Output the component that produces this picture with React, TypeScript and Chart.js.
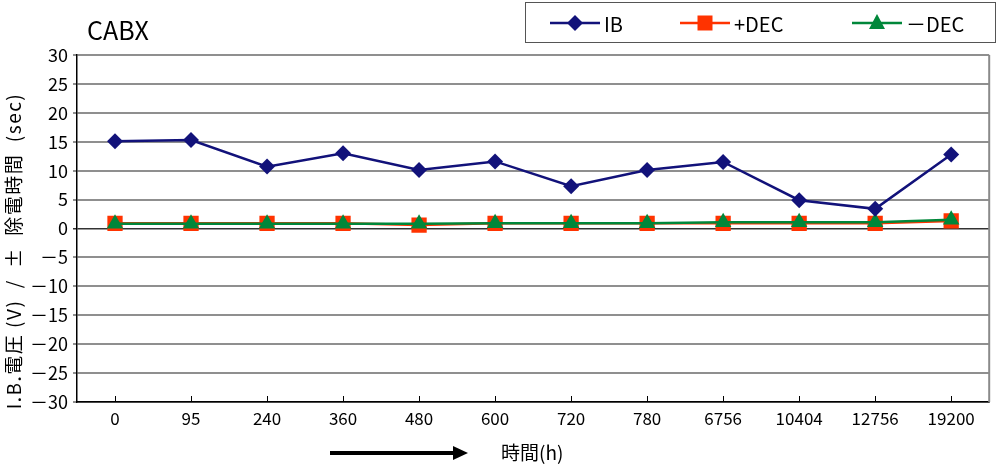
import React, { useEffect, useRef } from 'react';
import { Chart, registerables } from 'chart.js';

Chart.register(...registerables);

const categories = ['0', '95', '240', '360', '480', '600', '720', '780', '6756', '10404', '12756', '19200'];
const ibValues = [15.1, 15.3, 10.7, 13.0, 10.1, 11.6, 7.3, 10.1, 11.5, 4.9, 3.4, 12.8];
const plusDecValues = [0.9, 0.9, 0.9, 0.9, 0.6, 0.9, 0.9, 0.9, 0.9, 0.9, 0.9, 1.3];
const minusDecValues = [0.8, 0.8, 0.8, 0.8, 0.8, 0.9, 0.9, 0.9, 1.1, 1.1, 1.1, 1.5];
const seriesNames = ['IB', '+DEC', '－DEC'];
const yMin = -30;
const yMax = 30;
const yStep = 5;
const chartTitle = 'CABX';
const yTitle = 'I.B.電圧 (V)  /  ±  除電時間  (sec)';
const xTitle = '時間(h)';

const FONT = "'Noto Sans CJK JP', 'Noto Sans', sans-serif";
const C_IB = '#12127a';
const C_PLUS = '#ff3300';
const C_MINUS = '#00873a';

function marker(ctx: CanvasRenderingContext2D, kind: string, x: number, y: number, color: string) {
  ctx.save();
  ctx.fillStyle = color;
  ctx.beginPath();
  if (kind === 'diamond') {
    const r = 8;
    ctx.moveTo(x - r, y); ctx.lineTo(x, y - r); ctx.lineTo(x + r, y); ctx.lineTo(x, y + r);
  } else if (kind === 'square') {
    const s = 7.5;
    ctx.rect(x - s, y - s, 2 * s, 2 * s);
  } else {
    ctx.moveTo(x, y - 9); ctx.lineTo(x + 8, y + 6); ctx.lineTo(x - 8, y + 6);
  }
  ctx.closePath();
  ctx.fill();
  ctx.restore();
}

const decorPlugin = {
  id: 'decor',
  afterDraw(chart: any) {
    const ctx: CanvasRenderingContext2D = chart.ctx;
    const area = chart.chartArea;
    const xs = chart.scales.x;
    ctx.save();
    // right border of plot area
    ctx.strokeStyle = '#8a8a8a';
    ctx.lineWidth = 2;
    ctx.beginPath();
    ctx.moveTo(area.right, area.top);
    ctx.lineTo(area.right, area.bottom);
    ctx.stroke();

    // category tick marks (pointing up from bottom axis)
    ctx.strokeStyle = '#000';
    ctx.lineWidth = 1;
    for (let i = 0; i < categories.length; i++) {
      const px = Math.round(xs.getPixelForValue(i)) + 0.5;
      ctx.beginPath();
      ctx.moveTo(px, area.bottom);
      ctx.lineTo(px, area.bottom - 6);
      ctx.stroke();
    }

    // title
    ctx.fillStyle = '#000';
    ctx.font = `25px ${FONT}`;
    ctx.textAlign = 'left';
    ctx.textBaseline = 'middle';
    ctx.fillText(chartTitle, 87, 30);

    // legend box
    ctx.strokeStyle = '#555';
    ctx.lineWidth = 1;
    ctx.strokeRect(525.5, 2.5, 470, 40);
    const items = [
      { x: 550, color: C_IB, kind: 'diamond', label: seriesNames[0] },
      { x: 680, color: C_PLUS, kind: 'square', label: seriesNames[1] },
      { x: 852, color: C_MINUS, kind: 'triangle', label: seriesNames[2] },
    ];
    const ly = 23;
    items.forEach((it) => {
      ctx.strokeStyle = it.color;
      ctx.lineWidth = 2.5;
      ctx.beginPath();
      ctx.moveTo(it.x, ly);
      ctx.lineTo(it.x + 50, ly);
      ctx.stroke();
      marker(ctx, it.kind, it.x + 25, ly, it.color);
      ctx.fillStyle = '#000';
      ctx.font = `20px ${FONT}`;
      ctx.textAlign = 'left';
      ctx.textBaseline = 'middle';
      ctx.fillText(it.label, it.x + 54, ly + 1);
    });

    // y title
    ctx.save();
    ctx.translate(14, 251);
    ctx.rotate(-Math.PI / 2);
    ctx.fillStyle = '#000';
    ctx.font = `19px ${FONT}`;
    (ctx as any).letterSpacing = '1.5px';
    ctx.textAlign = 'center';
    ctx.textBaseline = 'middle';
    ctx.fillText(yTitle, 0, 0);
    ctx.restore();

    // x title and arrow
    ctx.fillStyle = '#000';
    ctx.font = `19px ${FONT}`;
    ctx.textAlign = 'left';
    ctx.textBaseline = 'middle';
    ctx.fillText(xTitle, 501, 453);
    ctx.strokeStyle = '#000';
    ctx.lineWidth = 4;
    ctx.beginPath();
    ctx.moveTo(330, 453);
    ctx.lineTo(456, 453);
    ctx.stroke();
    ctx.beginPath();
    ctx.moveTo(468, 453);
    ctx.lineTo(453, 446);
    ctx.lineTo(453, 460);
    ctx.closePath();
    ctx.fill();
    ctx.restore();
  },
};

export default function App() {
  const ref = useRef<HTMLCanvasElement | null>(null);
  useEffect(() => {
    if (!ref.current) return;
    const chart = new Chart(ref.current, {
      type: 'line',
      data: {
        labels: categories,
        datasets: [
          {
            label: seriesNames[0],
            data: ibValues,
            borderColor: C_IB,
            backgroundColor: C_IB,
            borderWidth: 2.5,
            pointStyle: 'rectRot',
            pointRadius: 8,
            pointBorderWidth: 0,
            order: 0,
          },
          {
            label: seriesNames[1],
            data: plusDecValues,
            borderColor: C_PLUS,
            backgroundColor: C_PLUS,
            borderWidth: 2.5,
            pointStyle: 'rect',
            pointRadius: 10.8,
            pointBorderWidth: 0,
            order: 2,
          },
          {
            label: seriesNames[2],
            data: minusDecValues,
            borderColor: C_MINUS,
            backgroundColor: C_MINUS,
            borderWidth: 2.5,
            pointStyle: 'triangle',
            pointRadius: 9.5,
            pointBorderWidth: 0,
            order: 1,
          },
        ],
      },
      options: {
        animation: false,
        responsive: true,
        maintainAspectRatio: false,
        layout: { padding: { left: 0, top: 55, right: 4, bottom: 0 } },
        plugins: {
          legend: { display: false },
          title: { display: false },
          tooltip: { enabled: false },
        },
        scales: {
          x: {
            offset: true,
            grid: { display: false, drawTicks: false },
            border: { display: true, color: '#000', width: 1.5 },
            ticks: {
              color: '#000',
              font: { family: FONT, size: 17 },
              padding: 6,
              maxRotation: 0,
              autoSkip: false,
            },
            afterFit: (s: any) => { s.height = 69; },
          },
          y: {
            min: yMin,
            max: yMax,
            grid: {
              color: (c: any) => (c.tick && c.tick.value === 0 ? '#333' : '#8f8f8f'),
              lineWidth: (c: any) => (c.tick && c.tick.value === 0 ? 1.5 : 2),
              tickLength: 4,
            },
            border: { display: true, color: '#000', width: 1.5 },
            ticks: {
              stepSize: yStep,
              color: '#000',
              font: { family: FONT, size: 18 },
              padding: 5,
              callback: (v: any) => (Number(v) < 0 ? '－' + Math.abs(Number(v)) : String(v)),
            },
            afterFit: (s: any) => { s.width = 77; },
          },
        },
      },
      plugins: [decorPlugin],
    });
    return () => chart.destroy();
  }, []);
  return (
    <div style={{ position: 'fixed', left: 0, top: 0, width: 1000, height: 471, background: '#fff' }}>
      <canvas ref={ref} />
    </div>
  );
}
